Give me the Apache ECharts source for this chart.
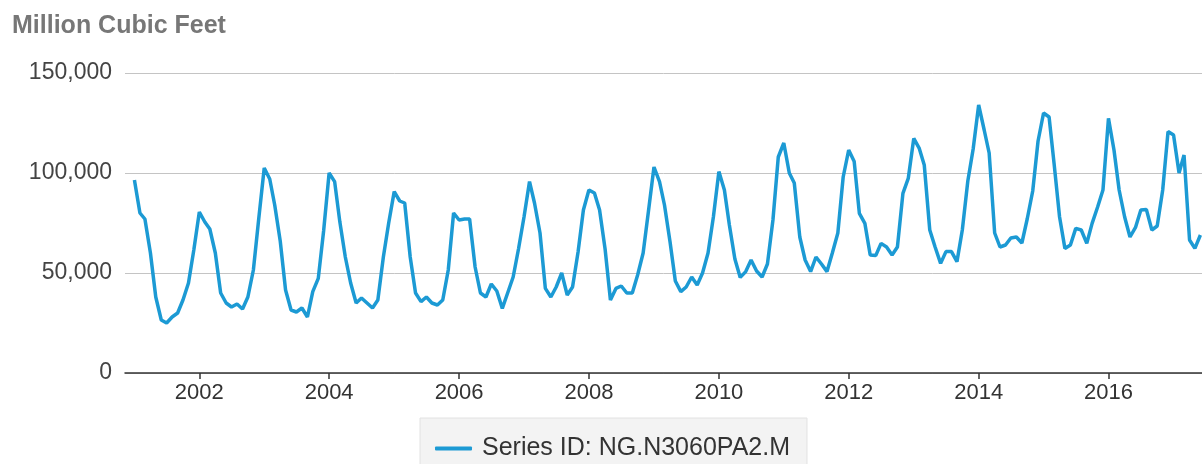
<!DOCTYPE html>
<html>
<head>
<meta charset="utf-8">
<script src="https://cdn.jsdelivr.net/npm/echarts@6/dist/echarts.min.js"></script>
<style>
html,body{margin:0;padding:0;background:#ffffff;}
#chart{width:1202px;height:464px;}
</style>
</head>
<body>
<div id="chart"></div>
<script>
// ---- data ----
const seriesName = 'Series ID: NG.N3060PA2.M';
const unitTitle = 'Million Cubic Feet';
const startYear = 2001;           // first value is January of this year, monthly after that
const monthlyValues = [
  // 2001
  96500, 80000, 77000, 60000, 38000, 26500, 25000, 28000, 30000, 36500, 45000, 61500,
  // 2002
  80500, 75500, 72000, 60000, 40000, 35000, 33000, 34500, 32000, 38000, 51500, 77000,
  // 2003
  102500, 97000, 84000, 66000, 41500, 31500, 30500, 32500, 28000, 40700, 47300, 71000,
  // 2004
  100000, 95700, 75700, 58000, 45000, 35000, 37500, 35000, 32500, 36500, 58000, 75000,
  // 2005
  90700, 86000, 85000, 58000, 40000, 35700, 38000, 35000, 34000, 36500, 51500, 80000,
  // 2006
  76500, 77000, 77000, 53000, 40000, 38000, 44500, 41000, 32300, 40000, 48000, 62000,
  // 2007
  78000, 95700, 85000, 70000, 42300, 38000, 43000, 50000, 39000, 43000, 60500, 81500,
  // 2008
  91500, 90000, 81500, 62000, 36500, 42300, 43500, 40000, 40000, 49000, 60000, 81000,
  // 2009
  103000, 95700, 84000, 65700, 46000, 40700, 43000, 48000, 44000, 50000, 60000, 78000,
  // 2010
  100700, 91500, 74000, 57000, 47800, 50700, 56500, 51000, 48000, 54500, 76500, 108000,
  // 2011
  115000, 100000, 95000, 68000, 56500, 50700, 58000, 54500, 50700, 60000, 70000, 98000,
  // 2012
  111500, 105700, 79800, 74800, 59000, 58700, 64800, 63000, 59000, 63000, 89800, 97300,
  // 2013
  117300, 112300, 104000, 71500, 63000, 54800, 60700, 60700, 55700, 71500, 96000, 112000,
  // 2014
  134000, 121500, 110000, 70000, 63000, 64000, 67500, 68000, 65000, 77000, 91000, 116000,
  // 2015
  130000, 128000, 104800, 78000, 62300, 64000, 72300, 71500, 64800, 74800, 83000, 91500,
  // 2016
  127300, 111500, 91500, 78000, 68000, 72800, 81500, 81800, 71500, 73500, 91500, 120700,
  // 2017
  119000, 100000, 109000, 66500, 62300, 69000
];
const tickYears = [2002, 2004, 2006, 2008, 2010, 2012, 2014, 2016];
const yMin = 0, yMax = 150000, yStep = 50000;

// ---- build library inputs ----
const points = monthlyValues.map((v, i) => [Date.UTC(startYear, i, 1), v]);
const tickTimes = tickYears.map(y => Date.UTC(y, 0, 1));
const axisStart = Date.UTC(2000, 10, 9);
const axisEnd = Date.UTC(2017, 5, 10);

const FONT = '"Liberation Sans", Arial, Helvetica, sans-serif';
const LINE_COLOR = '#1c9ad4';

const chart = echarts.init(document.getElementById('chart'), null, {renderer: 'canvas'});
chart.setOption({
  animation: false,
  backgroundColor: '#ffffff',
  textStyle: {fontFamily: FONT},
  title: {
    text: unitTitle,
    left: 12,
    top: 14,
    padding: 0,
    textStyle: {fontFamily: FONT, fontSize: 25, fontWeight: 'bold', color: '#777777'}
  },
  legend: {
    data: [seriesName],
    left: 420,
    top: 418,
    padding: [18, 17, 17, 15],
    backgroundColor: '#f3f3f3',
    borderColor: '#e2e2e2',
    borderWidth: 1,
    icon: 'roundRect',
    itemWidth: 37,
    itemHeight: 4,
    textStyle: {fontFamily: FONT, fontSize: 25, color: '#333333', padding: [0, 0, 0, 5]}
  },
  grid: {left: 125, right: 0, top: 73, bottom: 91, containLabel: false},
  xAxis: {
    type: 'value',
    min: axisStart,
    max: axisEnd,
    splitLine: {show: false},
    axisLine: {show: true, lineStyle: {color: '#333333', width: 1.5}},
    axisTick: {show: true, customValues: tickTimes, length: 6, lineStyle: {color: '#333333', width: 1.5}},
    axisLabel: {
      customValues: tickTimes,
      formatter: v => String(new Date(v).getUTCFullYear()),
      fontFamily: FONT, fontSize: 22, color: '#333333', margin: 9
    }
  },
  yAxis: {
    type: 'value',
    min: yMin,
    max: yMax,
    interval: yStep,
    axisLine: {show: false},
    axisTick: {show: false},
    splitLine: {show: true, lineStyle: {color: '#c4c4c4', width: 1}},
    axisLabel: {
      formatter: v => String(v).replace(/\B(?=(\d{3})+(?!\d))/g, ','),
      fontFamily: FONT, fontSize: 23, color: '#444444', margin: 13,
      padding: [6, 0, 0, 0]
    }
  },
  series: [{
    name: seriesName,
    type: 'line',
    data: points,
    showSymbol: false,
    symbol: 'none',
    lineStyle: {color: LINE_COLOR, width: 3.5},
    itemStyle: {color: LINE_COLOR},
    clip: true
  }]
});
</script>
</body>
</html>
